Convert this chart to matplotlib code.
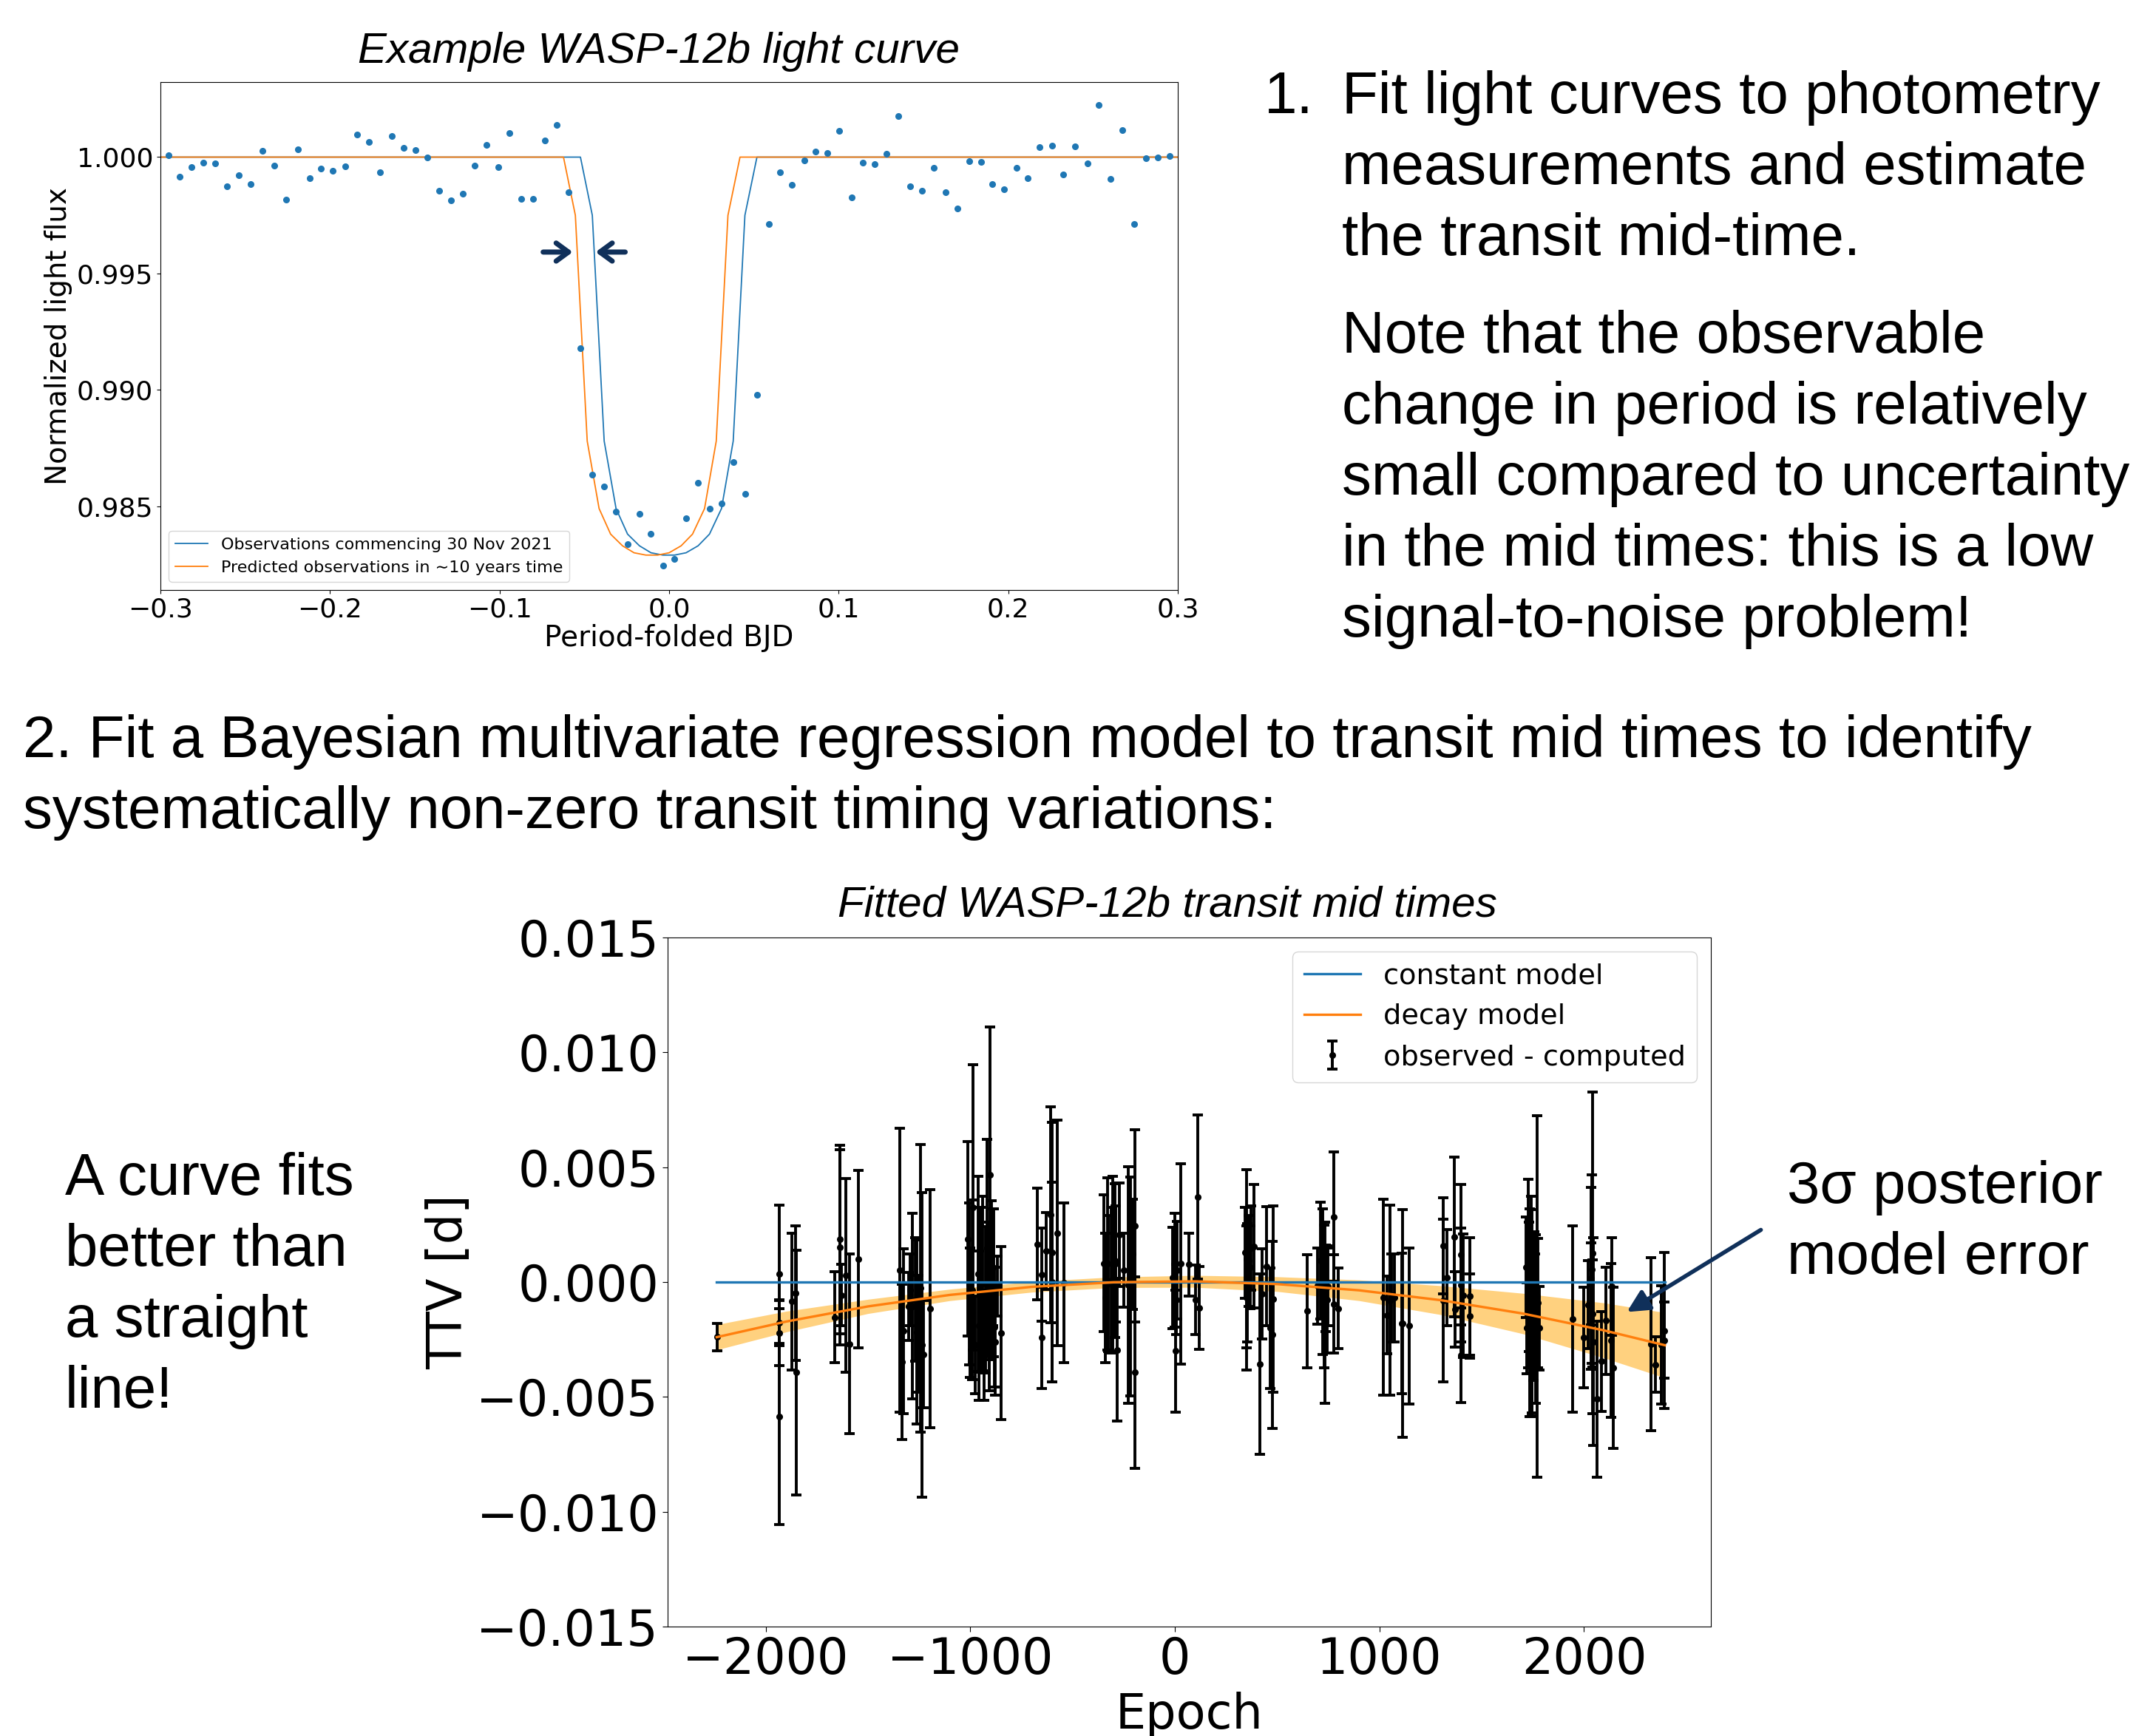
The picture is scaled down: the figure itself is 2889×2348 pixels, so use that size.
import numpy as np
import matplotlib
matplotlib.use("Agg")
import matplotlib.pyplot as plt

W, H = 2889, 2348

# --- light curve (period-folded) ---
lc_phase = [-0.2951, -0.2885, -0.2815, -0.2745, -0.2677, -0.2607, -0.2537, -0.2469, -0.2399, -0.2329,
            -0.2259, -0.2191, -0.2121, -0.2053, -0.1982, -0.1912, -0.1842, -0.1772, -0.1704, -0.1634,
            -0.1564, -0.1494, -0.1426, -0.1356, -0.1286, -0.1218, -0.1148, -0.1078, -0.1008, -0.0940,
            -0.0870, -0.0802, -0.0732, -0.0662, -0.0591, -0.0523, -0.0453, -0.0383, -0.0313, -0.0245,
            -0.0175, -0.0107, -0.0037,
            0.0032, 0.0100, 0.0171, 0.0238, 0.0309, 0.0378, 0.0447, 0.0518, 0.0587, 0.0656,
            0.0725, 0.0796, 0.0865, 0.0934, 0.1004, 0.1075, 0.1144, 0.1213, 0.1282, 0.1351,
            0.1422, 0.1491, 0.1560, 0.1629, 0.1700, 0.1769, 0.1838, 0.1907, 0.1976, 0.2048,
            0.2117, 0.2186, 0.2257, 0.2326, 0.2395, 0.2466, 0.2535, 0.2604, 0.2673, 0.2744,
            0.2813, 0.2882, 0.2951]
lc_flux = [1.00007, 0.99915, 0.99956, 0.99975, 0.99974, 0.99875, 0.99923, 0.99883, 1.00028, 0.99964,
           0.99816, 1.00034, 0.99910, 0.99952, 0.99942, 0.99961, 1.00098, 1.00066, 0.99934, 1.00090,
           1.00041, 1.00029, 0.99999, 0.99854, 0.99813, 0.99844, 0.99964, 1.00051, 0.99956, 1.00104,
           0.99821, 0.99821, 1.00070, 1.00137, 0.99850, 0.99180, 0.98634, 0.98586, 0.98478, 0.98337,
           0.98468, 0.98383, 0.98246,
           0.98273, 0.98448, 0.98601, 0.98490, 0.98513, 0.98691, 0.98553, 0.98980, 0.99714, 0.99934,
           0.99882, 0.99987, 1.00023, 1.00019, 1.00112, 0.99828, 0.99975, 0.99969, 1.00013, 1.00175,
           0.99875, 0.99856, 0.99953, 0.99850, 0.99780, 0.99982, 0.99980, 0.99883, 0.99861, 0.99953,
           0.99910, 1.00044, 1.00048, 0.99924, 1.00045, 0.99972, 1.00223, 0.99905, 1.00117, 0.99713,
           0.99994, 0.99999, 1.00006]

obs_phase = [-0.3, -0.0523, -0.0453, -0.0383, -0.0313, -0.0245, -0.0175, -0.0107, -0.0037,
             0.0032, 0.0100, 0.0171, 0.0238, 0.0309, 0.0378, 0.0447, 0.0518, 0.3]
pred_phase = [-0.3, -0.0623, -0.0553, -0.0483, -0.0413, -0.0345, -0.0275, -0.0207, -0.0137,
              -0.0068, 0.0000, 0.0071, 0.0138, 0.0209, 0.0278, 0.0347, 0.0418, 0.3]
model_flux = [1.0, 1.0, 0.9975, 0.9878, 0.9849, 0.9838, 0.9833, 0.9830, 0.9829,
              0.9829, 0.9830, 0.9833, 0.9838, 0.9849, 0.9878, 0.9975, 1.0, 1.0]

# --- transit timing variations (values in 1e-3 d) ---
ttv_epoch = [-2238, -1935, -1935, -1933, -1934, -1873, -1853, -1852, -1664, -1638, -1638, -1632, -1608, -1590, -1547,
             -1345, -1334, -1328, -1303, -1295, -1283, -1270, -1262, -1255, -1243, -1238, -1231, -1198,
             -1014, -1006, -1000, -990, -987, -975, -963, -957, -951, -939, -933, -927, -918, -909, -903,
             -897, -891, -885, -883, -877, -867, -849,
             -673, -650, -650, -629, -608, -599, -599, -576, -544,
             -347, -340, -331, -325, -313, -303, -295, -289, -283, -270, -250, -229, -219, -205, -195, -195,
             -12, -2, 4, 6, 12, 30, 69, 100, 111, 120,
             343, 349, 349, 355, 361, 367, 373, 385, 415, 427, 449, 467, 476, 482,
             648, 698, 710, 723, 729, 732, 737, 744, 749, 777, 777, 798,
             1020, 1036, 1050, 1060, 1072, 1108, 1114, 1146,
             1313, 1313, 1328, 1367, 1369, 1397, 1399, 1400, 1409, 1441, 1441,
             1716, 1720, 1728, 1732, 1734, 1740, 1744, 1746, 1752, 1756, 1758, 1764, 1770, 1776, 1782,
             1945, 1999, 2021, 2035, 2035, 2039, 2041, 2041, 2044, 2065, 2086, 2105, 2131, 2137, 2143,
             2327, 2348, 2378, 2394, 2394]
ttv_val = [-2.39, 0.35, -1.77, -2.22, -5.85, -0.85, -0.48, -3.94, -1.53, 1.86, 1.51, -0.57, 0.28, -2.69, 1.00,
           0.52, -3.48, -2.14, -1.05, -0.34, -1.05, -0.76, -2.18, -2.25, -0.27, -2.74, -3.14, -1.15,
           1.88, -0.09, -1.33, -0.34, 3.26, -2.74, 0.36, -1.89, -0.34, -0.06, -2.74, -0.77, 1.49, -1.05, 4.66,
           0.08, 0.65, -0.03, -1.97, -2.60, -0.17, -2.22,
           1.65, 0.32, -2.43, 1.35, 2.93, 1.30, 0.01, 2.13, -0.03,
           0.82, -0.69, 0.79, -0.06, 0.08, 0.79, 0.93, 0.79, -2.95, 2.06, 0.51, -0.13, -0.20, 1.21, 2.44, -3.94,
           0.18, 0.51, -3.00, -0.76, 0.51, 0.79, 0.76, -0.76, 3.71, -1.13,
           1.28, 1.00, -0.69, -0.03, 0.93, 0.65, 1.49, 1.56, -3.56, -0.52, 0.69, -2.01, -2.29, -0.74,
           -1.27, -0.17, 0.93, 0.01, -0.62, -1.33, -0.27, -0.76, -0.20, 2.84, -0.95, -1.15,
           -0.66, -1.44, -0.79, -0.69, -0.69, -1.80, -1.80, -1.91,
           1.59, -0.79, 0.18, 1.96, -1.19, 1.18, -3.19, -0.13, -0.59, -0.62, -1.47,
           0.65, -2.01, 0.36, -0.20, -1.33, -1.05, -2.18, -1.33, -1.05, -0.34, -0.62, -1.61, -0.62, -0.91, -2.01,
           -1.61, -2.42, -0.99, 0.16, -0.09, 0.56, 1.27, -1.37, -2.60, -5.09, -3.45, -1.68, -2.53, -0.20, -3.73,
           -2.70, -3.59, -2.74, -2.11, -2.53]
ttv_err = [0.60, 3.01, 0.99, 1.41, 4.70, 2.99, 2.94, 5.34, 1.98, 4.11, 4.25, 1.33, 4.22, 3.91, 3.86,
           6.17, 3.39, 3.60, 1.48, 1.55, 4.05, 2.68, 4.01, 2.54, 6.26, 6.64, 2.33, 5.18,
           4.24, 3.53, 2.82, 3.90, 6.21, 2.12, 4.24, 3.25, 3.60, 3.81, 2.40, 3.18, 4.73, 3.67, 6.44,
           3.47, 2.54, 3.22, 2.60, 2.33, 1.30, 3.77,
           2.43, 2.03, 2.22, 1.67, 4.70, 5.65, 4.35, 4.91, 3.49,
           2.97, 2.82, 3.76, 2.97, 3.16, 3.81, 3.36, 2.54, 3.11, 2.26, 1.61, 5.15, 4.76, 2.40, 4.19, 4.17,
           2.20, 2.47, 2.65, 1.53, 2.12, 4.35, 1.38, 1.51, 3.57, 1.79,
           1.98, 3.88, 3.15, 2.58, 1.98, 1.81, 1.84, 2.68, 3.93, 1.96, 2.58, 2.61, 4.07, 4.07,
           2.47, 1.65, 2.54, 3.18, 3.11, 3.95, 1.88, 2.33, 1.69, 2.82, 2.15, 1.75,
           4.28, 1.69, 4.14, 1.92, 1.92, 3.05, 4.97, 3.40,
           2.09, 3.54, 2.09, 3.47, 1.65, 3.06, 2.06, 2.47, 2.68, 2.56, 1.84,
           2.19, 1.98, 4.10, 2.82, 4.52, 4.80, 3.53, 4.49, 3.22, 2.54, 1.84, 3.67, 7.87, 2.82, 1.82,
           4.07, 2.19, 1.91, 3.95, 1.79, 4.10, 7.00, 2.33, 4.52, 3.40, 2.17, 2.33, 3.35, 2.12, 3.52,
           3.76, 1.20, 2.58, 3.39, 1.67]

model_epoch = [-2240, -1900, -1500, -1100, -700, -300, 100, 500, 900, 1300, 1700, 2100, 2395]
decay_mid = [-2.40, -1.72, -1.06, -0.56, -0.21, -0.01, 0.03, -0.09, -0.36, -0.79, -1.37, -2.11, -2.75]
decay_3sig = [0.55, 0.45, 0.31, 0.25, 0.23, 0.23, 0.26, 0.32, 0.45, 0.63, 0.88, 1.20, 1.42]
const_epoch = [-2240, 2395]
const_val = [0.0, 0.0]

# --- slide text ---
step1_lines = ["Fit light curves to photometry", "measurements and estimate", "the transit mid-time."]
note_lines = ["Note that the observable", "change in period is relatively",
              "small compared to uncertainty", "in the mid times: this is a low",
              "signal-to-noise problem!"]
step2_lines = ["2. Fit a Bayesian multivariate regression model to transit mid times to identify",
               "systematically non-zero transit timing variations:"]
curve_lines = ["A curve fits", "better than", "a straight", "line!"]
sigma_lines = ["3\u03c3 posterior", "model error"]

navy = "#10305a"
big = dict(family="Liberation Sans", fontsize=57.5, va="baseline")
small_head = "->,head_length=0.3,head_width=0.22"

fig = plt.figure(figsize=(W / 100, H / 100), dpi=100)

# top panel: light curve
ax1 = fig.add_axes([217 / W, 1 - 798 / H, (1593 - 217) / W, (798 - 110.5) / H])
ax1.plot(obs_phase, model_flux, color="tab:blue", lw=1.3, label="Observations commencing 30 Nov 2021")
ax1.plot(pred_phase, model_flux, color="tab:orange", lw=1.3,
         label="Predicted observations in \u223c10 years time")
ax1.plot(lc_phase, lc_flux, "o", color="tab:blue", ms=5.5, zorder=3)
ax1.set_xlim(-0.3, 0.3)
ax1.set_ylim(0.9814, 1.00324)
ax1.set_xticks([-0.3, -0.2, -0.1, 0.0, 0.1, 0.2, 0.3])
ax1.set_yticks([0.985, 0.990, 0.995, 1.000])
ax1.tick_params(labelsize=26)
ax1.set_xlabel("Period-folded BJD", fontsize=28, labelpad=2)
ax1.set_ylabel("Normalized light flux", fontsize=28)
ax1.legend(loc="lower left", fontsize=16)
ax1.annotate("", xy=(-0.0556, 0.99592), xytext=(-0.0755, 0.99592),
             arrowprops=dict(arrowstyle=small_head, color=navy, lw=5, mutation_scale=40))
ax1.annotate("", xy=(-0.0446, 0.99592), xytext=(-0.0247, 0.99592),
             arrowprops=dict(arrowstyle=small_head, color=navy, lw=5, mutation_scale=40))
fig.text(891 / W, 1 - 85 / H, "Example WASP-12b light curve", family="Liberation Sans",
         style="italic", fontsize=42, ha="center", va="baseline")

# bottom panel: TTVs
ep = np.array(model_epoch)
mid = np.array(decay_mid) * 1e-3
sig = np.array(decay_3sig) * 1e-3
ax2 = fig.add_axes([903 / W, 1 - 2200 / H, (2314 - 903) / W, (2200 - 1268) / H])
ax2.fill_between(ep, mid - sig, mid + sig, color="orange", alpha=0.5, lw=0)
eb = ax2.errorbar(ttv_epoch, np.array(ttv_val) * 1e-3, yerr=np.array(ttv_err) * 1e-3, fmt="o",
                  color="black", ms=5.5, elinewidth=2.8, capsize=5, capthick=2.8,
                  label="observed - computed")
l1, = ax2.plot(const_epoch, const_val, color="tab:blue", lw=2.4, zorder=4, label="constant model")
l2, = ax2.plot(model_epoch, mid, color="tab:orange", lw=2.4, zorder=4, label="decay model")
ax2.set_xlim(-2480, 2620)
ax2.set_ylim(-0.015, 0.015)
ax2.set_xticks([-2000, -1000, 0, 1000, 2000])
ax2.set_yticks([-0.015, -0.010, -0.005, 0.0, 0.005, 0.010, 0.015])
ax2.tick_params(labelsize=48, length=5)
ax2.set_xlabel("Epoch", fontsize=47, labelpad=7)
ax2.set_ylabel("TTV [d]", fontsize=47)
ax2.legend(handles=[l1, l2, eb], loc="upper right", fontsize=27.5)
fig.text(1579 / W, 1 - 1240 / H, "Fitted WASP-12b transit mid times", family="Liberation Sans",
         style="italic", fontsize=42, ha="center", va="baseline")
ax2.annotate("", xy=(2198 / W, 1 - 1776 / H), xycoords="figure fraction",
             xytext=(2384 / W, 1 - 1662 / H), textcoords="figure fraction",
             arrowprops=dict(arrowstyle="-|>", color=navy, lw=4, mutation_scale=45),
             annotation_clip=False)

# slide text
fig.text(1710 / W, 1 - 153 / H, "1.", **big)
for i, s in enumerate(step1_lines):
    fig.text(1815 / W, 1 - (153 + 96 * i) / H, s, **big)
for i, s in enumerate(note_lines):
    fig.text(1815 / W, 1 - (477 + 96 * i) / H, s, **big)
for i, s in enumerate(step2_lines):
    fig.text(31 / W, 1 - (1024 + 96 * i) / H, s, **big)
for i, s in enumerate(curve_lines):
    fig.text(88 / W, 1 - (1616 + 96 * i) / H, s, **big)
for i, s in enumerate(sigma_lines):
    fig.text(2417 / W, 1 - (1627 + 96 * i) / H, s, **big)

fig.savefig("out.png", dpi=100)
